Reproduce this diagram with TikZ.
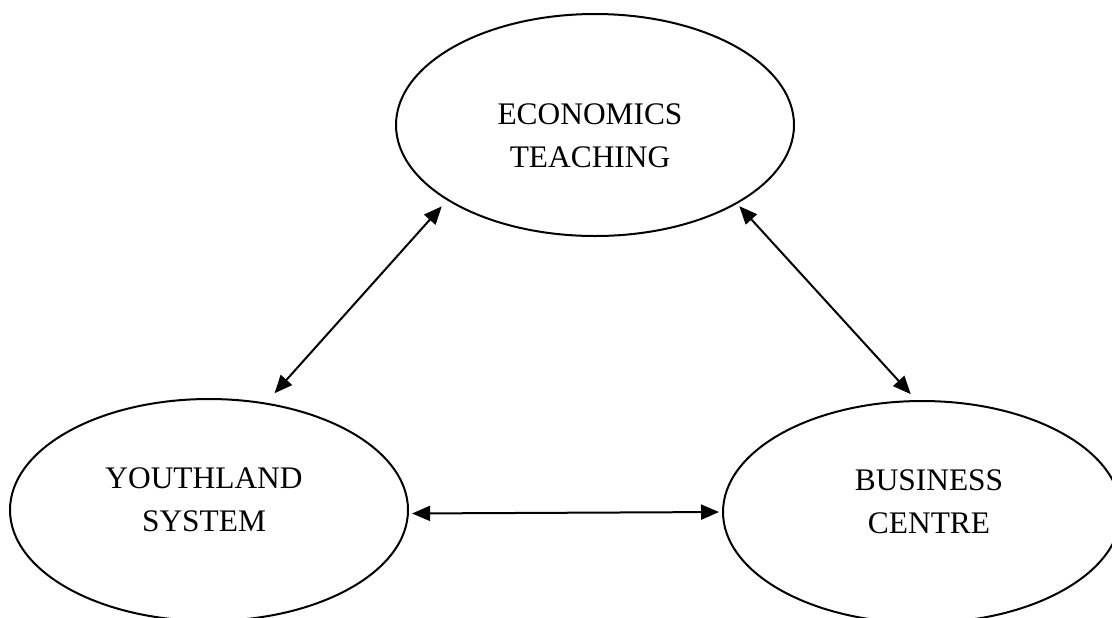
\documentclass[tikz,border=0pt]{standalone}
\usepackage{fontspec}
\setmainfont{Liberation Serif}
\usepackage{tikz}
\usetikzlibrary{arrows.meta, shapes.geometric}
\tikzset{
>={Triangle[length=9pt, width=7.5pt]}, % filled arrow heads
blob/.style={ellipse, draw, line width=1pt, minimum width=199pt, minimum height=111pt}, % the three ovals
link/.style={<->, line width=1pt}, % two-way connectors
every label/.style={align=center, font=\fontsize{15.7}{21.5}\selectfont}, % text inside the ovals
}

\begin{document}
\begin{tikzpicture}[x=0.5pt, y=-0.5pt]
        \useasboundingbox (0,0) rectangle (1112,617);
        \node[blob, label={[xshift=-2.5pt, yshift=-5.5pt]center:ECONOMICS\\TEACHING}] (eco) at (595,125) {};
        \node[blob, label={[xshift=-2.5pt, yshift=5pt]center:YOUTHLAND\\SYSTEM}] (youth) at (209,510) {};
        \node[blob, label={[xshift=3.5pt, yshift=5pt]center:BUSINESS\\CENTRE}] (biz) at (922,512) {};

        \draw[link, shorten <=6.3pt, shorten >=4pt] (youth.62.7) -- (eco.207.4);
        \draw[link, shorten <=1.6pt, shorten >=4pt] (eco.-29.5) -- (biz.93.8);
        \draw[link, shorten <=1.6pt, shorten >=1.5pt] (youth.-1.4) -- (biz.180.9);
    \end{tikzpicture}
\end{document}
